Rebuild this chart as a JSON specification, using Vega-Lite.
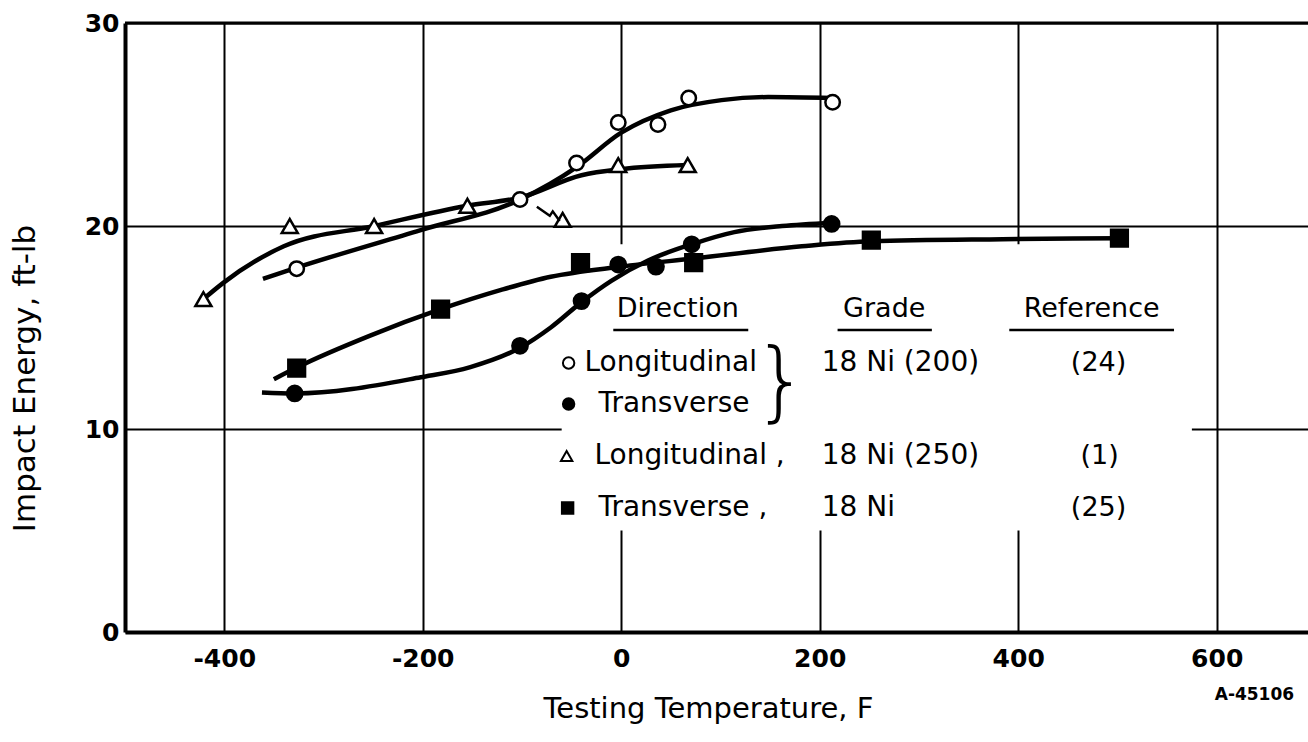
{
  "$schema": "https://vega.github.io/schema/vega-lite/v6.json",
  "width": 1183,
  "height": 609,
  "autosize": "none",
  "padding": {"left": 125, "top": 23, "right": 0, "bottom": 110},
  "background": "white",
  "config": {
    "view": {"stroke": null},
    "font": "DejaVu Sans",
    "text": {"font": "DejaVu Sans", "color": "#000"}
  },
  "datasets": {
    "points": [
      {"series": "Longitudinal 18 Ni (200)", "temp": -327, "energy": 17.9},
      {"series": "Longitudinal 18 Ni (200)", "temp": -102, "energy": 21.3},
      {"series": "Longitudinal 18 Ni (200)", "temp": -45, "energy": 23.1},
      {"series": "Longitudinal 18 Ni (200)", "temp": -3, "energy": 25.1},
      {"series": "Longitudinal 18 Ni (200)", "temp": 37, "energy": 25.0},
      {"series": "Longitudinal 18 Ni (200)", "temp": 68, "energy": 26.3},
      {"series": "Longitudinal 18 Ni (200)", "temp": 213, "energy": 26.1},
      {"series": "Longitudinal 18 Ni (250)", "temp": -421, "energy": 16.4},
      {"series": "Longitudinal 18 Ni (250)", "temp": -334, "energy": 20.0},
      {"series": "Longitudinal 18 Ni (250)", "temp": -249, "energy": 20.0},
      {"series": "Longitudinal 18 Ni (250)", "temp": -155, "energy": 21.0},
      {"series": "Longitudinal 18 Ni (250)", "temp": -59, "energy": 20.3},
      {"series": "Longitudinal 18 Ni (250)", "temp": -3, "energy": 23.0},
      {"series": "Longitudinal 18 Ni (250)", "temp": 67, "energy": 23.0},
      {"series": "Transverse 18 Ni (200)", "temp": -329, "energy": 11.75},
      {"series": "Transverse 18 Ni (200)", "temp": -102, "energy": 14.1},
      {"series": "Transverse 18 Ni (200)", "temp": -40, "energy": 16.3},
      {"series": "Transverse 18 Ni (200)", "temp": -3, "energy": 18.1},
      {"series": "Transverse 18 Ni (200)", "temp": 35, "energy": 18.0},
      {"series": "Transverse 18 Ni (200)", "temp": 71, "energy": 19.1},
      {"series": "Transverse 18 Ni (200)", "temp": 212, "energy": 20.1},
      {"series": "Transverse 18 Ni", "temp": -327, "energy": 13.0},
      {"series": "Transverse 18 Ni", "temp": -182, "energy": 15.9},
      {"series": "Transverse 18 Ni", "temp": -41, "energy": 18.2},
      {"series": "Transverse 18 Ni", "temp": 73, "energy": 18.2},
      {"series": "Transverse 18 Ni", "temp": 252, "energy": 19.3},
      {"series": "Transverse 18 Ni", "temp": 502, "energy": 19.4}
    ],
    "curves": [
      {"series": "Longitudinal 18 Ni (200)", "temp": -361, "energy": 17.4},
      {"series": "Longitudinal 18 Ni (200)", "temp": -327, "energy": 17.95},
      {"series": "Longitudinal 18 Ni (200)", "temp": -202, "energy": 19.8},
      {"series": "Longitudinal 18 Ni (200)", "temp": -102, "energy": 21.3},
      {"series": "Longitudinal 18 Ni (200)", "temp": -45, "energy": 22.9},
      {"series": "Longitudinal 18 Ni (200)", "temp": 0, "energy": 24.6},
      {"series": "Longitudinal 18 Ni (200)", "temp": 50, "energy": 25.7},
      {"series": "Longitudinal 18 Ni (200)", "temp": 101, "energy": 26.2},
      {"series": "Longitudinal 18 Ni (200)", "temp": 148, "energy": 26.35},
      {"series": "Longitudinal 18 Ni (200)", "temp": 213, "energy": 26.3},
      {"series": "Longitudinal 18 Ni (250)", "temp": -421, "energy": 16.4},
      {"series": "Longitudinal 18 Ni (250)", "temp": -401, "energy": 17.2},
      {"series": "Longitudinal 18 Ni (250)", "temp": -340, "energy": 19.0},
      {"series": "Longitudinal 18 Ni (250)", "temp": -249, "energy": 20.0},
      {"series": "Longitudinal 18 Ni (250)", "temp": -155, "energy": 21.0},
      {"series": "Longitudinal 18 Ni (250)", "temp": -102, "energy": 21.4},
      {"series": "Longitudinal 18 Ni (250)", "temp": -40, "energy": 22.5},
      {"series": "Longitudinal 18 Ni (250)", "temp": 0, "energy": 22.8},
      {"series": "Longitudinal 18 Ni (250)", "temp": 67, "energy": 23.0},
      {"series": "Transverse 18 Ni (200)", "temp": -362, "energy": 11.8},
      {"series": "Transverse 18 Ni (200)", "temp": -329, "energy": 11.75},
      {"series": "Transverse 18 Ni (200)", "temp": -202, "energy": 12.55},
      {"series": "Transverse 18 Ni (200)", "temp": -152, "energy": 13.05},
      {"series": "Transverse 18 Ni (200)", "temp": -102, "energy": 14.0},
      {"series": "Transverse 18 Ni (200)", "temp": -71, "energy": 15.0},
      {"series": "Transverse 18 Ni (200)", "temp": -40, "energy": 16.25},
      {"series": "Transverse 18 Ni (200)", "temp": -10, "energy": 17.3},
      {"series": "Transverse 18 Ni (200)", "temp": 27, "energy": 18.3},
      {"series": "Transverse 18 Ni (200)", "temp": 71, "energy": 19.1},
      {"series": "Transverse 18 Ni (200)", "temp": 114, "energy": 19.7},
      {"series": "Transverse 18 Ni (200)", "temp": 162, "energy": 20.0},
      {"series": "Transverse 18 Ni (200)", "temp": 212, "energy": 20.15},
      {"series": "Transverse 18 Ni", "temp": -350, "energy": 12.45},
      {"series": "Transverse 18 Ni", "temp": -326, "energy": 13.05},
      {"series": "Transverse 18 Ni", "temp": -253, "energy": 14.6},
      {"series": "Transverse 18 Ni", "temp": -182, "energy": 15.9},
      {"series": "Transverse 18 Ni", "temp": -121, "energy": 16.85},
      {"series": "Transverse 18 Ni", "temp": -71, "energy": 17.5},
      {"series": "Transverse 18 Ni", "temp": 0, "energy": 18.0},
      {"series": "Transverse 18 Ni", "temp": 73, "energy": 18.4},
      {"series": "Transverse 18 Ni", "temp": 182, "energy": 19.0},
      {"series": "Transverse 18 Ni", "temp": 252, "energy": 19.25},
      {"series": "Transverse 18 Ni", "temp": 384, "energy": 19.35},
      {"series": "Transverse 18 Ni", "temp": 502, "energy": 19.4}
    ],
    "legendSymbols": [
      {"series": "Longitudinal 18 Ni (200)", "temp": -53, "energy": 13.25},
      {"series": "Transverse 18 Ni (200)", "temp": -53, "energy": 11.23},
      {"series": "Longitudinal 18 Ni (250)", "temp": -55, "energy": 8.67},
      {"series": "Transverse 18 Ni", "temp": -54, "energy": 6.11}
    ],
    "leftTexts": [
      {"label": "Longitudinal", "temp": -37, "energy": 13.25},
      {"label": "Transverse", "temp": -23, "energy": 11.23},
      {"label": "Longitudinal ,", "temp": -27, "energy": 8.67},
      {"label": "Transverse ,", "temp": -23, "energy": 6.11},
      {"label": "18 Ni (200)", "temp": 202, "energy": 13.25},
      {"label": "18 Ni (250)", "temp": 202, "energy": 8.67},
      {"label": "18 Ni", "temp": 202, "energy": 6.11}
    ],
    "centerTexts": [
      {"label": "Direction", "temp": 57, "energy": 15.9},
      {"label": "Grade", "temp": 265, "energy": 15.9},
      {"label": "Reference", "temp": 474, "energy": 15.9},
      {"label": "(24)", "temp": 481, "energy": 13.25},
      {"label": "(1)", "temp": 482, "energy": 8.67},
      {"label": "(25)", "temp": 481, "energy": 6.11}
    ],
    "underlines": [
      {"from": -8, "to": 128, "energy": 14.88},
      {"from": 218, "to": 313, "energy": 14.88},
      {"from": 391, "to": 557, "energy": 14.88}
    ],
    "arrow": [
      {"o": 1, "temp": -85, "energy": 20.95},
      {"o": 2, "temp": -72, "energy": 20.5},
      {"o": 3, "temp": -69, "energy": 20.72},
      {"o": 4, "temp": -62, "energy": 20.25}
    ]
  },
  "layer": [
    {
      "data": {"values": [{"x1": -60, "x2": 575, "y1": 5.0, "y2": 19.1}]},
      "mark": {"type": "rect", "fill": "white", "stroke": null},
      "encoding": {
        "x": {
          "field": "x1", "type": "quantitative",
          "scale": {"domain": [-500, 692], "nice": false, "zero": false},
          "axis": {
            "values": [-400, -200, 0, 200, 400, 600],
            "labelExpr": "'' + datum.value",
            "grid": true, "gridColor": "#000", "gridWidth": 2,
            "domainColor": "#000", "domainWidth": 4,
            "ticks": false,
            "labelFont": "DejaVu Sans", "labelFontSize": 25, "labelFontWeight": "bold", "labelColor": "#000",
            "labelPadding": 14, "labelFlush": false,
            "title": "Testing Temperature, F",
            "titleFont": "DejaVu Sans", "titleFontSize": 29, "titleFontWeight": "normal",
            "titleColor": "#000",
            "titleX": 583, "titleY": 76, "titleAlign": "center", "titleBaseline": "middle"
          }
        },
        "x2": {"field": "x2"},
        "y": {
          "field": "y1", "type": "quantitative",
          "scale": {"domain": [0, 30], "nice": false},
          "axis": {
            "values": [0, 10, 20, 30],
            "grid": true, "gridColor": "#000", "gridWidth": 2,
            "domainColor": "#000", "domainWidth": 4,
            "ticks": false,
            "labelFont": "DejaVu Sans", "labelFontSize": 25, "labelFontWeight": "bold", "labelColor": "#000",
            "labelPadding": 6, "labelFlush": false,
            "title": "Impact Energy, ft-lb",
            "titleFont": "DejaVu Sans", "titleFontSize": 31, "titleFontWeight": "normal",
            "titleColor": "#000",
            "titleX": -100, "titleY": 355, "titleAngle": -90, "titleAlign": "center", "titleBaseline": "middle"
          }
        },
        "y2": {"field": "y2"}
      }
    },
    {
      "data": {"values": [{"v": 30}]},
      "mark": {"type": "rule", "color": "#000", "strokeWidth": 3},
      "encoding": {"y": {"field": "v", "type": "quantitative"}}
    },
    {
      "data": {"name": "curves"},
      "mark": {"type": "line", "color": "#000", "strokeWidth": 4.5, "interpolate": "monotone"},
      "encoding": {
        "x": {"field": "temp", "type": "quantitative"},
        "y": {"field": "energy", "type": "quantitative"},
        "detail": {"field": "series"}
      }
    },
    {
      "data": {"name": "points"},
      "mark": {"type": "point", "stroke": "#000", "strokeWidth": 2.5, "opacity": 1, "filled": false},
      "encoding": {
        "x": {"field": "temp", "type": "quantitative"},
        "y": {"field": "energy", "type": "quantitative"},
        "shape": {
          "field": "series", "type": "nominal", "legend": null,
          "scale": {
            "domain": ["Longitudinal 18 Ni (200)", "Transverse 18 Ni (200)", "Longitudinal 18 Ni (250)", "Transverse 18 Ni"],
            "range": ["circle", "circle", "triangle-up", "square"]
          }
        },
        "fill": {
          "field": "series", "type": "nominal", "legend": null,
          "scale": {
            "domain": ["Longitudinal 18 Ni (200)", "Transverse 18 Ni (200)", "Longitudinal 18 Ni (250)", "Transverse 18 Ni"],
            "range": ["#ffffff", "#000000", "#ffffff", "#000000"]
          }
        },
        "size": {
          "field": "series", "type": "nominal", "legend": null,
          "scale": {
            "domain": ["Longitudinal 18 Ni (200)", "Transverse 18 Ni (200)", "Longitudinal 18 Ni (250)", "Transverse 18 Ni"],
            "range": [210, 280, 200, 340]
          }
        }
      }
    },
    {
      "data": {"name": "legendSymbols"},
      "mark": {"type": "point", "stroke": "#000", "strokeWidth": 2, "opacity": 1, "size": 130},
      "encoding": {
        "x": {"field": "temp", "type": "quantitative"},
        "y": {"field": "energy", "type": "quantitative"},
        "shape": {"field": "series", "type": "nominal", "legend": null},
        "fill": {"field": "series", "type": "nominal", "legend": null}
      }
    },
    {
      "data": {"name": "underlines"},
      "mark": {"type": "rule", "color": "#000", "strokeWidth": 2.5},
      "encoding": {
        "x": {"field": "from", "type": "quantitative"},
        "x2": {"field": "to"},
        "y": {"field": "energy", "type": "quantitative"}
      }
    },
    {
      "data": {"name": "leftTexts"},
      "mark": {"type": "text", "align": "left", "baseline": "middle", "fontSize": 28, "font": "DejaVu Sans", "color": "#000"},
      "encoding": {
        "x": {"field": "temp", "type": "quantitative"},
        "y": {"field": "energy", "type": "quantitative"},
        "text": {"field": "label"}
      }
    },
    {
      "data": {"name": "centerTexts"},
      "mark": {"type": "text", "align": "center", "baseline": "middle", "fontSize": 27, "font": "DejaVu Sans", "color": "#000"},
      "encoding": {
        "x": {"field": "temp", "type": "quantitative"},
        "y": {"field": "energy", "type": "quantitative"},
        "text": {"field": "label"}
      }
    },
    {
      "data": {"values": [{"label": "}", "temp": 161, "energy": 12.2}]},
      "mark": {"type": "text", "align": "center", "baseline": "middle", "fontSize": 88, "font": "DejaVu Sans", "fontWeight": 200, "color": "#000"},
      "encoding": {
        "x": {"field": "temp", "type": "quantitative"},
        "y": {"field": "energy", "type": "quantitative"},
        "text": {"field": "label"}
      }
    },
    {
      "data": {"name": "arrow"},
      "mark": {"type": "line", "color": "#000", "strokeWidth": 2.5},
      "encoding": {
        "x": {"field": "temp", "type": "quantitative"},
        "y": {"field": "energy", "type": "quantitative"},
        "order": {"field": "o"}
      }
    },
    {
      "data": {"values": [{"label": "A-45106", "temp": 638, "energy": -3.1}]},
      "mark": {"type": "text", "align": "center", "baseline": "middle", "fontSize": 17, "fontWeight": "bold", "font": "DejaVu Sans", "color": "#000"},
      "encoding": {
        "x": {"field": "temp", "type": "quantitative"},
        "y": {"field": "energy", "type": "quantitative"},
        "text": {"field": "label"}
      }
    }
  ]
}
